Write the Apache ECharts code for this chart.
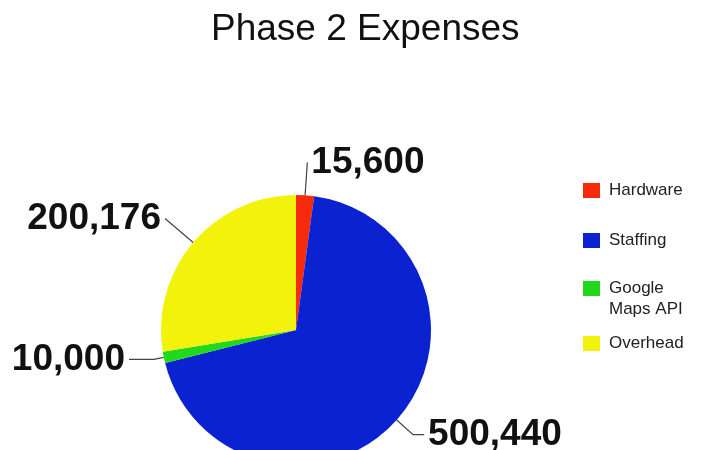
<!DOCTYPE html>
<html>
<head>
<meta charset="utf-8">
<script src="https://cdn.jsdelivr.net/npm/echarts@6/dist/echarts.min.js"></script>
<style>
    html, body { margin: 0; padding: 0; background: #fff; }
    #chart { width: 710px; height: 450px; }
</style>
</head>
<body>
<div id="chart"></div>
<script>
// 数据
const categories = ['Hardware', 'Staffing', 'Google Maps API', 'Overhead']
const expenses = [15600, 500440, 10000, 200176]
const colors = ['#f82a0c', '#0a22d0', '#22d81c', '#f2f20a']

// 引导线长度 [length, length2]
const leader = [[33, 0], [22, 11], [10, 25], [37, 0]]
// 图例位置
const legendTop = [175, 225, 252, 328]

const FONT = "'Liberation Sans', Arial, sans-serif"

const chart = echarts.init(document.getElementById('chart'))

const legends = categories.map((name, i) => ({
    orient: 'vertical',
    left: 578,
    top: legendTop[i],
    data: [name],
    icon: 'rect',
    itemWidth: 17,
    itemHeight: 15,
    selectedMode: false,
    // Google Maps API 换行，首行和色块对齐
    formatter: n => n === 'Google Maps API' ? '\nGoogle\nMaps API' : n,
    textStyle: {
        fontFamily: FONT,
        fontSize: 17,
        lineHeight: 21,
        color: '#222',
        padding: [0, 0, 0, 4]
    }
}))

chart.setOption({
    animation: false,
    title: {
        text: 'Phase 2 Expenses',
        left: 206,
        top: 6,
        textStyle: {
            fontFamily: FONT,
            fontSize: 37,
            fontWeight: 'normal',
            color: '#111'
        }
    },
    legend: legends,
    series: [
        {
            type: 'pie',
            center: [296, 330],
            radius: 135,
            startAngle: 90,
            clockwise: true,
            avoidLabelOverlap: false,
            itemStyle: { borderWidth: 0 },
            emphasis: { disabled: true },
            label: {
                show: true,
                position: 'outside',
                formatter: p => p.value.toLocaleString('en-US'),
                fontFamily: FONT,
                fontSize: 37,
                fontWeight: 'bold',
                color: '#111',
                distanceToLabelLine: 4
            },
            labelLine: {
                show: true,
                lineStyle: { color: '#444', width: 1.2 }
            },
            data: categories.map((name, i) => ({
                name: name,
                value: expenses[i],
                itemStyle: { color: colors[i] },
                labelLine: { length: leader[i][0], length2: leader[i][1] }
            }))
        }
    ]
})
</script>
</body>
</html>
